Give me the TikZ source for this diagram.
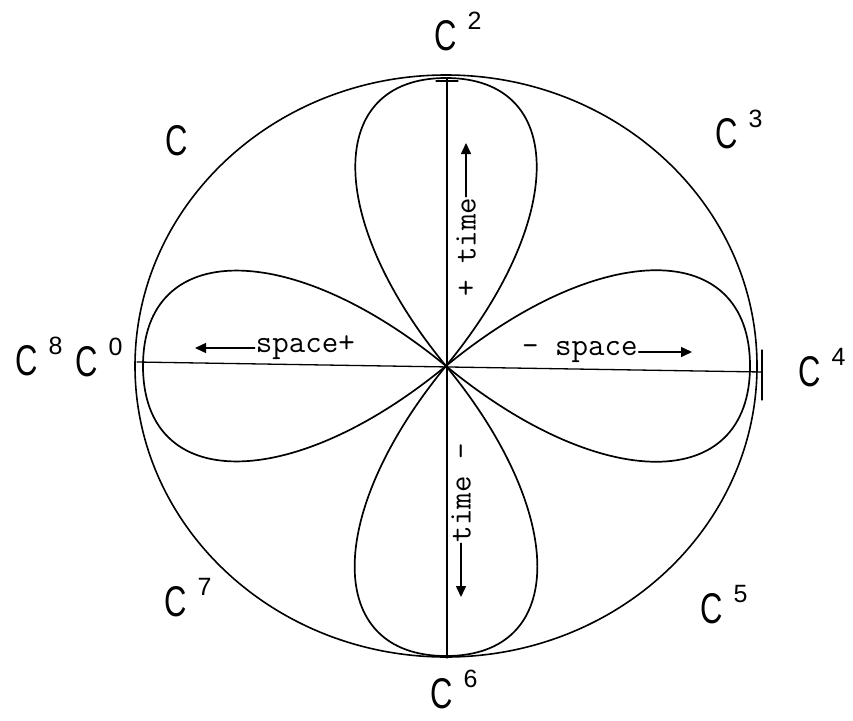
\documentclass[tikz,border=0pt]{standalone}
\usepackage{fontspec}
\setmainfont{Liberation Sans}
\newfontfamily\cfont[FakeStretch=0.72]{Liberation Sans}
\newfontfamily\wfont{Latin Modern Mono}
\usetikzlibrary{arrows.meta}
\newcommand\bigC{{\cfont\fontsize{43}{43}\selectfont C}}
\newcommand\clab[1]{\bigC\hspace{11pt}\raisebox{21pt}{\fontsize{25}{25}\selectfont #1}}

\begin{document}
\begin{tikzpicture}[x=1pt, y=-1pt,
      line cap=round,
      rim/.style={line width=1.6pt},
      axis/.style={line width=1.3pt},
      petal/.style={line width=1.7pt, line join=round},
      clabel/.style={anchor=base west, inner sep=0pt},
      word/.style={font=\wfont\fontsize{32}{32}\selectfont, inner sep=1pt},
      pointer/.style={-{Triangle[length=11pt, width=10pt]}, line width=1.5pt}]
    \useasboundingbox (0,0) rectangle (853,720);
    \coordinate (O) at (446,366);
    % rim and axes
    \draw[rim] (O) ellipse [x radius=311pt, y radius=291pt];
    \coordinate (top) at (447,78);
    \coordinate (bot) at (447,658);
    \coordinate (lft) at (137,362);
    \coordinate (rgt) at (762,372);
    \draw[axis] (top) -- (bot);
    \draw[axis] (lft) -- (rgt);
    \draw[axis] (436,81) -- (458,81);
    \draw[axis] (762,350) -- (762,400);
    % four petals
    \foreach \ang/\len in {0/304, 90/288, 180/303, 270/290}
      \draw[petal, shift={(O)}, rotate=\ang] (0,0)
        .. controls ({0.51*\len},{0.42*\len}) and (\len,{0.42*\len}) .. (\len,0)
        .. controls (\len,{-0.42*\len}) and ({0.51*\len},{-0.42*\len}) .. (0,0);
    % labels round the rim
    \node[clabel] (c2) at (434,50) {\clab{2}};
    \node[clabel] (c1) at (165,155) {\bigC};
    \node[clabel] (c3) at (715,148) {\clab{3}};
    \node[clabel] (c8) at (15,375) {\clab{8}};
    \node[clabel] (c0) at (75,376) {\clab{0}};
    \node[clabel] (c4) at (798,386) {\clab{4}};
    \node[clabel] (c5) at (700,623) {\clab{5}};
    \node[clabel] (c7) at (164,616) {\clab{7}};
    \node[clabel] (c6) at (430,708) {\clab{6}};
    % space and time
    \node[word, anchor=west] (spR) at (521,352) {- space};
    \coordinate (spRtip) at (692,352);
    \draw[pointer] (spR.east) -- (spRtip);
    \node[word, anchor=east] (spL) at (356,348) {space+};
    \coordinate (spLtip) at (195,348);
    \draw[pointer] (spL.west) -- (spLtip);
    \node[word, rotate=90, anchor=west] (tmU) at (466,298) {+ time};
    \coordinate (tmUtip) at (466,143);
    \draw[pointer] (tmU.east) -- (tmUtip);
    \node[word, rotate=90, anchor=east] (tmD) at (461,442) {time -};
    \coordinate (tmDtip) at (461,597);
    \draw[pointer] (tmD.west) -- (tmDtip);
\end{tikzpicture}
\end{document}
